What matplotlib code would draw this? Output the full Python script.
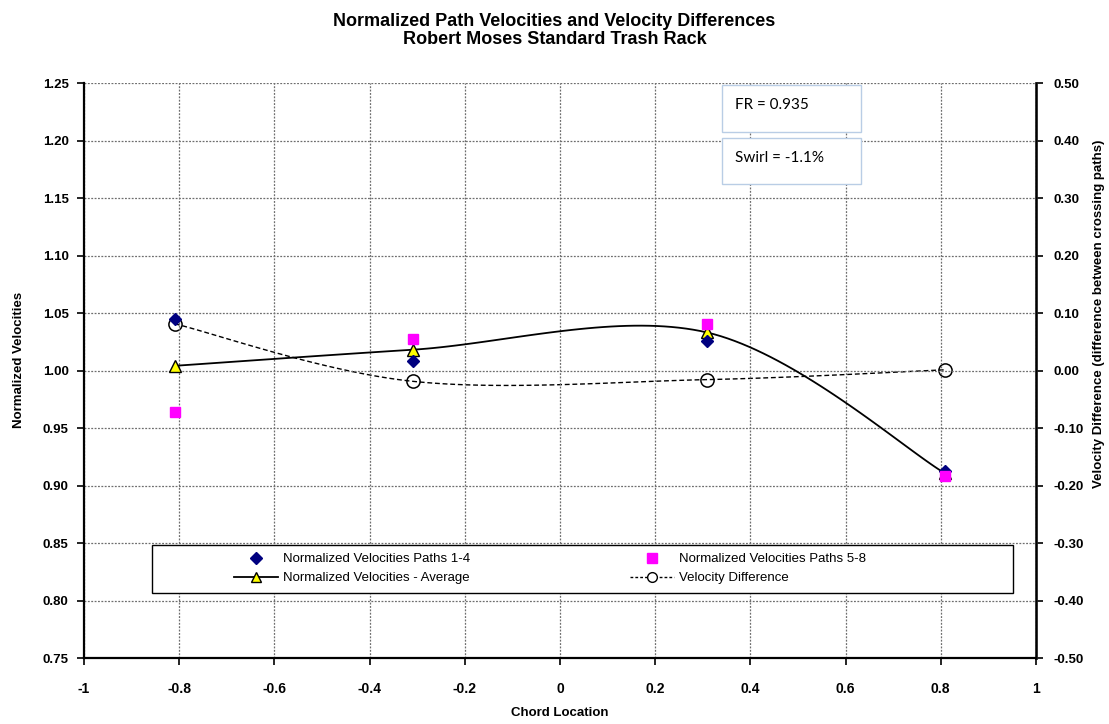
import numpy as np
import matplotlib.pyplot as plt
from matplotlib.patches import Rectangle
from matplotlib.ticker import FormatStrFormatter, FuncFormatter

# chord locations of the four crossing paths
chord = [-0.809, -0.309, 0.309, 0.809]
vel_paths_1_4 = [1.045, 1.009, 1.026, 0.913]
vel_paths_5_8 = [0.964, 1.028, 1.041, 0.909]
vel_average = [1.0045, 1.0185, 1.0335, 0.911]
vel_difference = [0.082, -0.018, -0.015, 0.002]

x_ticks = [-1, -0.8, -0.6, -0.4, -0.2, 0, 0.2, 0.4, 0.6, 0.8, 1]
y_ticks = [0.75, 0.80, 0.85, 0.90, 0.95, 1.00, 1.05, 1.10, 1.15, 1.20, 1.25]
y2_ticks = [-0.5, -0.4, -0.3, -0.2, -0.1, 0.0, 0.1, 0.2, 0.3, 0.4, 0.5]

plt.rcParams['font.family'] = ['Liberation Sans', 'DejaVu Sans']


def smooth(xs, ys, n=40):
    # spreadsheet-style smoothed line: cubic bezier segments, Catmull-Rom handles / 6
    p = np.column_stack([xs, ys]).astype(float)
    pts = np.vstack([p[0], p, p[-1]])
    out = []
    for i in range(1, len(pts) - 2):
        p0, p1, p2, p3 = pts[i - 1], pts[i], pts[i + 1], pts[i + 2]
        c1 = p1 + (p2 - p0) / 6
        c2 = p2 - (p3 - p1) / 6
        t = np.linspace(0, 1, n)[:, None]
        seg = (1 - t) ** 3 * p1 + 3 * (1 - t) ** 2 * t * c1 + 3 * (1 - t) * t ** 2 * c2 + t ** 3 * p2
        out.append(seg if i == 1 else seg[1:])
    seg = np.vstack(out)
    return seg[:, 0], seg[:, 1]


fig = plt.figure(figsize=(11.09, 7.24), dpi=100)
ax = fig.add_axes([0.0757, 0.0905, 0.8584, 0.7942])
ax2 = ax.twinx()
ax.set_zorder(2)
ax2.set_zorder(1)
ax.patch.set_visible(False)

# velocity difference on the right axis
sx, sy = smooth(chord, vel_difference)
ax2.plot(sx, sy, color='black', lw=1.0, ls=(0, (3.5, 2)))
ax2.plot(chord, vel_difference, ls='none', marker='o', ms=9.5, mfc='none',
         mec='black', mew=1.1)
diff_handle, = ax2.plot([], [], color='black', lw=1.0, ls=(0, (2, 1.5)), marker='o',
                        ms=7, mfc='white', mec='black', mew=1.0)

sx, sy = smooth(chord, vel_average)
ax.plot(sx, sy, color='black', lw=1.3, zorder=3)
ax.plot(chord, vel_average, ls='none', marker='^', ms=8, mfc='#ffff00', mec='black',
        mew=1.0, zorder=4)
avg_handle, = ax.plot([], [], color='black', lw=1.3, marker='^', ms=7, mfc='#ffff00',
                      mec='black', mew=1.0)
h14, = ax.plot(chord, vel_paths_1_4, ls='none', marker='D', ms=6, color='#000080', zorder=5)
h58, = ax.plot(chord, vel_paths_5_8, ls='none', marker='s', ms=7.8, color='#ff00ff', zorder=6)

ax.set_xlim(-1, 1)
ax.set_ylim(0.75, 1.25)
ax2.set_ylim(-0.5, 0.5)
ax.set_xticks(x_ticks)
ax.set_yticks(y_ticks)
ax2.set_yticks(y2_ticks)
ax.xaxis.set_major_formatter(FuncFormatter(lambda v, p: '%g' % round(v, 2)))
ax.yaxis.set_major_formatter(FormatStrFormatter('%.2f'))
ax2.yaxis.set_major_formatter(FormatStrFormatter('%.2f'))

ax.grid(True, color='#6e6e6e', lw=0.9, ls=(0, (1.5, 1.2)))
for a in (ax, ax2):
    a.tick_params(direction='out', length=5, width=1.2, labelsize=9.5)
    for lab in a.get_xticklabels() + a.get_yticklabels():
        lab.set_fontweight('bold')
    a.spines['top'].set_visible(False)
ax.spines['left'].set_linewidth(1.6)
ax.spines['bottom'].set_linewidth(1.6)
ax2.spines['right'].set_linewidth(2.0)
ax2.spines['right'].set_color('#202020')
ax2.spines['left'].set_visible(False)
ax2.spines['bottom'].set_visible(False)
ax.tick_params(axis='x', pad=12, labelsize=10)
ax.tick_params(axis='y', pad=6)
ax2.tick_params(axis='y', pad=8)

ax.set_xlabel('Chord Location', fontsize=9.5, fontweight='bold', labelpad=8)
ax.set_ylabel('Normalized Velocities', fontsize=9.5, fontweight='bold')
ax.yaxis.set_label_coords(-0.062, 0.52)
ax2.set_ylabel('Velocity Difference (difference between crossing paths)', fontsize=9.5,
               fontweight='bold')
ax2.yaxis.set_label_coords(1.0595, 0.6)

fig.suptitle('Normalized Path Velocities and Velocity Differences\nRobert Moses Standard Trash Rack',
             fontsize=13, fontweight='bold', y=0.982, linespacing=1.05)

# legend frame and its two columns
ax.add_patch(Rectangle((0.0714, 0.114), 0.905, 0.083, transform=ax.transAxes,
                       facecolor='white', edgecolor='black', lw=1.0, zorder=8))
leg_kw = dict(loc='upper left', frameon=False, fontsize=9.5, handlelength=3.3,
              handletextpad=0.4, labelspacing=0.5, borderpad=0, borderaxespad=0)
leg1 = ax.legend([h14, avg_handle],
                 ['Normalized Velocities Paths 1-4', 'Normalized Velocities - Average'],
                 bbox_to_anchor=(0.158, 0.183), **leg_kw)
leg1.set_zorder(9)
ax.add_artist(leg1)
leg2 = ax.legend([h58, diff_handle],
                 ['Normalized Velocities Paths 5-8', 'Velocity Difference'],
                 bbox_to_anchor=(0.574, 0.183), **leg_kw)
leg2.set_zorder(9)

# flow ratio and swirl boxes
for y0, txt in [(0.916, 'FR = 0.935'), (0.825, 'Swirl = -1.1%')]:
    ax.add_patch(Rectangle((0.670, y0), 0.146, 0.081, transform=ax.transAxes,
                           facecolor='white', edgecolor='#b9cde5', lw=1.0, zorder=8))
    ax.text(0.684, y0 + 0.046, txt, transform=ax.transAxes, fontsize=11,
            family=['Lato', 'DejaVu Sans'], va='center', ha='left', zorder=9)

fig.savefig('out.png', dpi=100)
